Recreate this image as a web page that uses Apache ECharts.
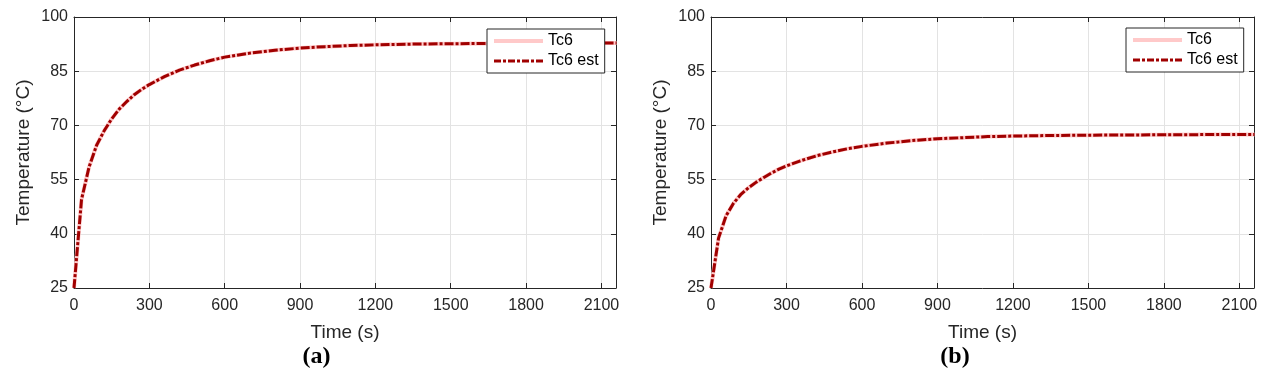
<!DOCTYPE html>
<html>
<head>
<meta charset="utf-8">
<script src="https://cdn.jsdelivr.net/npm/echarts@6/dist/echarts.min.js"></script>
<style>
html,body{margin:0;padding:0;background:#fff;}
#chart{width:1271px;height:382px;}
</style>
</head>
<body>
<div id="chart"></div>
<script>
// Time samples (s)
const time = [0, 30, 60, 90, 120, 150, 180, 210, 240, 270, 300, 360, 420, 480, 540, 600, 700, 800, 900, 1000, 1100, 1200, 1350, 1500, 1650, 1800, 1950, 2100, 2160];
// Panel (a)
const tc6A    = [25, 49.5, 58.5, 64.5, 68.5, 71.8, 74.5, 76.6, 78.5, 80.0, 81.3, 83.5, 85.3, 86.7, 87.9, 88.9, 90.0, 90.8, 91.4, 91.8, 92.1, 92.3, 92.5, 92.6, 92.7, 92.75, 92.8, 92.8, 92.8];
const tc6EstA = [25, 49.5, 58.5, 64.5, 68.5, 71.8, 74.5, 76.6, 78.5, 80.0, 81.3, 83.5, 85.3, 86.7, 87.9, 88.9, 90.0, 90.8, 91.4, 91.8, 92.1, 92.3, 92.5, 92.6, 92.7, 92.75, 92.8, 92.8, 92.8];
// Panel (b)
const tc6B    = [25, 38.8, 45.0, 48.5, 51.0, 52.8, 54.3, 55.6, 56.8, 57.9, 58.8, 60.3, 61.6, 62.6, 63.5, 64.2, 65.1, 65.8, 66.3, 66.6, 66.9, 67.05, 67.2, 67.3, 67.35, 67.4, 67.45, 67.5, 67.5];
const tc6EstB = [25, 38.8, 45.0, 48.5, 51.0, 52.8, 54.3, 55.6, 56.8, 57.9, 58.8, 60.3, 61.6, 62.6, 63.5, 64.2, 65.1, 65.8, 66.3, 66.6, 66.9, 67.05, 67.2, 67.3, 67.35, 67.4, 67.45, 67.5, 67.5];
// Axis ticks
const xTicks = [0, 300, 600, 900, 1200, 1500, 1800, 2100];
const yTicks = [25, 40, 55, 70, 85, 100];
const seriesNames = ['Tc6', 'Tc6 est'];
const panelLabels = ['(a)', '(b)'];

const FONT = '"Liberation Sans", Arial, Helvetica, sans-serif';
const AX = '#262626';
const GRIDC = '#e3e3e3';
const XMAX = 2158;
const PINK = '#ffc9c9';
const DARKRED = '#a00000';

function pairs(xs, ys){ return xs.map((x,i)=>[x, ys[i]]); }

const grids = [
  {left: 74, top: 17, width: 542, height: 271},
  {left: 711, top: 17, width: 543, height: 271}
];

const xAxes = [], yAxes = [];
grids.forEach((g, gi) => {
  xAxes.push({
    type: 'value', gridIndex: gi, position: 'bottom', min: 0, max: XMAX, interval: 300,
    name: 'Time (s)', nameLocation: 'middle', nameGap: 35,
    nameTextStyle: {fontFamily: FONT, fontSize: 19, color: AX},
    axisLine: {show: true, onZero: false, lineStyle: {color: AX, width: 1}},
    axisTick: {show: true, inside: true, length: 5, lineStyle: {color: AX}},
    axisLabel: {fontFamily: FONT, fontSize: 16, color: AX, margin: 10,
      formatter: v => xTicks.indexOf(v) >= 0 ? String(v) : ''},
    splitLine: {show: true, lineStyle: {color: GRIDC, width: 1}}
  });
  xAxes.push({
    type: 'value', gridIndex: gi, position: 'top', min: 0, max: XMAX, interval: 300,
    axisLine: {show: true, onZero: false, lineStyle: {color: AX, width: 1}},
    axisTick: {show: true, inside: true, length: 5, lineStyle: {color: AX}},
    axisLabel: {show: false}, splitLine: {show: false}
  });
  yAxes.push({
    type: 'value', gridIndex: gi, position: 'left', min: 25, max: 100, interval: 15,
    name: 'Temperature (°C)', nameLocation: 'middle', nameGap: 41,
    nameTextStyle: {fontFamily: FONT, fontSize: 19, color: AX},
    axisLine: {show: true, onZero: false, lineStyle: {color: AX, width: 1}},
    axisTick: {show: true, inside: true, length: 5, lineStyle: {color: AX}},
    axisLabel: {fontFamily: FONT, fontSize: 16, color: AX, margin: 6,
      formatter: v => yTicks.indexOf(v) >= 0 ? String(v) : ''},
    splitLine: {show: true, lineStyle: {color: GRIDC, width: 1}}
  });
  yAxes.push({
    type: 'value', gridIndex: gi, position: 'right', min: 25, max: 100, interval: 15,
    axisLine: {show: true, onZero: false, lineStyle: {color: AX, width: 1}},
    axisTick: {show: true, inside: true, length: 5, lineStyle: {color: AX}},
    axisLabel: {show: false}, splitLine: {show: false}
  });
});

const measured = [tc6A, tc6B];
const estimated = [tc6EstA, tc6EstB];
const series = [];
grids.forEach((g, gi) => {
  series.push({
    name: seriesNames[0], type: 'line', xAxisIndex: gi*2, yAxisIndex: gi*2,
    data: pairs(time, measured[gi]), showSymbol: false, symbol: 'none', smooth: false,
    lineStyle: {color: PINK, width: 4}, itemStyle: {color: PINK}, z: 2, animation: false
  });
  series.push({
    name: seriesNames[1], type: 'line', xAxisIndex: gi*2, yAxisIndex: gi*2,
    data: pairs(time, estimated[gi]), showSymbol: false, symbol: 'none', smooth: false,
    lineStyle: {color: DARKRED, width: 3, type: [9, 2, 3, 2]}, itemStyle: {color: DARKRED}, z: 3, animation: false
  });
});

const legendPos = [{left: 487, top: 29}, {left: 1126, top: 28}];
const legends = legendPos.map(p => ({
  left: p.left, top: p.top, orient: 'vertical',
  data: [
    {name: seriesNames[0], lineStyle: {width: 4, color: PINK}},
    {name: seriesNames[1], lineStyle: {width: 3, color: DARKRED, type: [7, 2, 3, 2]}}
  ],
  backgroundColor: '#fff', borderColor: AX, borderWidth: 1, borderRadius: 0,
  padding: [3, 6, 3, 5], itemGap: 2, itemWidth: 49, itemHeight: 12,
  itemStyle: {opacity: 0},
  textStyle: {fontFamily: FONT, fontSize: 16, color: '#000', lineHeight: 18},
  selectedMode: false
}));

const labelX = [316.5, 955];
const graphic = panelLabels.map((t, i) => ({
  type: 'text', x: labelX[i], y: 357,
  style: {text: t, font: 'bold 24px "Liberation Serif", "Times New Roman", serif', fill: '#000',
    textAlign: 'center', textVerticalAlign: 'middle'}
}));

const chart = echarts.init(document.getElementById('chart'), null, {renderer: 'canvas'});
chart.setOption({
  animation: false,
  backgroundColor: '#fff',
  grid: grids,
  xAxis: xAxes,
  yAxis: yAxes,
  legend: legends,
  series: series,
  graphic: graphic
});
</script>
</body>
</html>
